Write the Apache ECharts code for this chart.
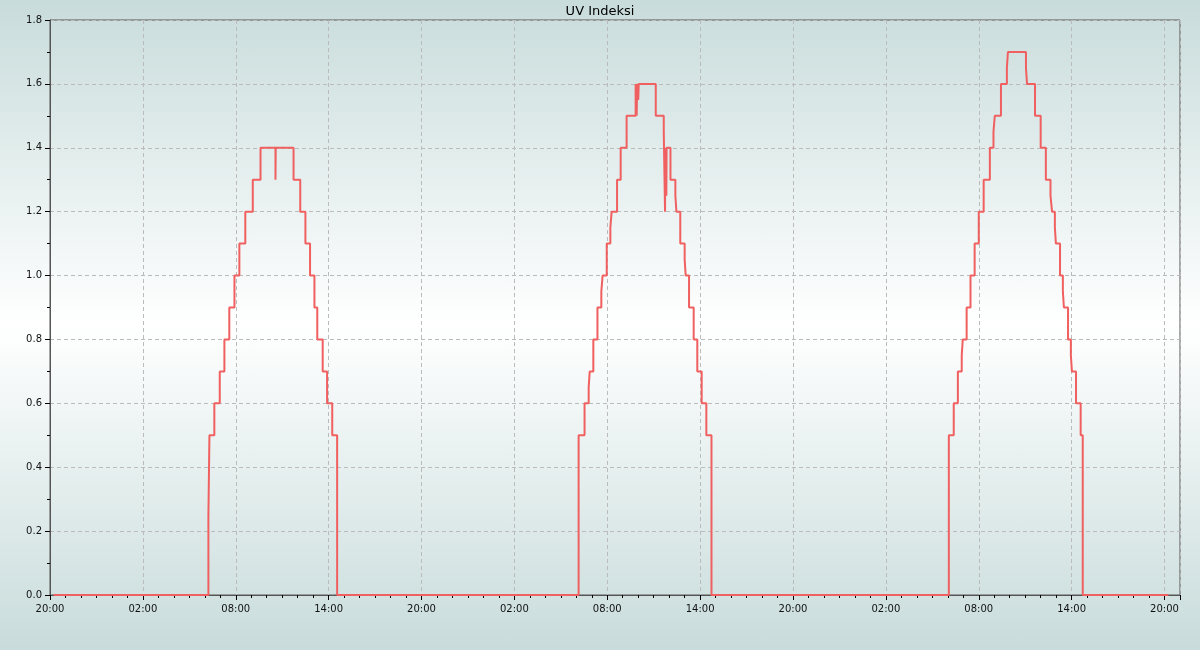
<!DOCTYPE html>
<html>
<head>
<meta charset="utf-8">
<script src="https://cdn.jsdelivr.net/npm/echarts@6/dist/echarts.min.js"></script>
<style>
  html, body { margin: 0; padding: 0; }
  #chart { width: 1200px; height: 650px;
    background: linear-gradient(to bottom, #c8dcdb 0%, #ffffff 50%, #c8dcdb 100%); }
</style>
</head>
<body>
<div id="chart"></div>
<script>
// Axis start: day 0 at 20:00; axis spans 73 hours (to 21:00 on day 3)
const startHour = 20;
const axisHours = 73;
const xTickStep = 6;
const yMax = 1.8;
const yStep = 0.2;

// Change points: "day HH:MM" -> value holds from this time on
const seriesStart = ['0 20:14'];
const startValues = [0];

const day1Times = ['1 06:14','1 06:18','1 06:37','1 06:58','1 07:16','1 07:35','1 07:55','1 08:14','1 08:37','1 09:06','1 09:36',
  '1 10:34','1 10:35','1 11:44','1 12:10','1 12:30','1 12:48','1 13:05','1 13:16','1 13:37','1 13:54','1 14:14','1 14:33'];
const day1Values = [0.25,0.5,0.6,0.7,0.8,0.9,1.0,1.1,1.2,1.3,1.4,
  1.3,1.4,1.3,1.2,1.1,1.0,0.9,0.8,0.7,0.6,0.5,0];

const day2Times = ['2 06:09','2 06:32','2 06:48','2 06:52','2 07:06','2 07:22','2 07:37','2 07:42','2 07:58','2 08:12','2 08:17',
  '2 08:38','2 08:52','2 09:15','2 09:50','2 09:54','2 09:56','2 10:00','2 10:02','2 11:08','2 11:39','2 11:44','2 11:45',
  '2 11:49','2 11:50','2 12:05','2 12:24','2 12:28','2 12:43','2 13:00','2 13:04','2 13:17','2 13:35','2 13:49','2 14:06','2 14:24','2 14:44'];
const day2Values = [0.5,0.6,0.65,0.7,0.8,0.9,0.95,1.0,1.1,1.15,1.2,
  1.3,1.4,1.5,1.6,1.5,1.6,1.55,1.6,1.5,1.45,1.2,1.4,
  1.25,1.4,1.3,1.25,1.2,1.1,1.05,1.0,0.9,0.8,0.7,0.6,0.5,0];

const day3Times = ['3 06:04','3 06:23','3 06:39','3 06:54','3 06:58','3 07:13','3 07:28','3 07:44','3 08:00','3 08:19','3 08:43',
  '3 08:57','3 09:02','3 09:26','3 09:49','3 09:53','3 11:03','3 11:07','3 11:38','3 12:00','3 12:20','3 12:38','3 12:44',
  '3 12:55','3 12:59','3 13:15','3 13:26','3 13:30','3 13:46','3 13:57','3 14:01','3 14:17','3 14:35','3 14:43'];
const day3Values = [0.5,0.6,0.7,0.75,0.8,0.9,1.0,1.1,1.2,1.3,1.4,
  1.45,1.5,1.6,1.65,1.7,1.65,1.6,1.5,1.4,1.3,1.25,1.2,
  1.15,1.1,1.0,0.95,0.9,0.8,0.75,0.7,0.6,0.5,0];

const seriesEnd = ['3 20:15'];
const endValues = [0];

function toHours(s) {
  const [d, hm] = s.split(' ');
  const [h, m] = hm.split(':').map(Number);
  return +d * 24 + h + m / 60 - startHour;
}
const allTimes = [].concat(seriesStart, day1Times, day2Times, day3Times, seriesEnd);
const allValues = [].concat(startValues, day1Values, day2Values, day3Values, endValues);
const data = allTimes.map((t, i) => [toHours(t), allValues[i]]);

const font = 'DejaVu Sans';
const chart = echarts.init(document.getElementById('chart'), null, { renderer: 'canvas' });
chart.setOption({
  backgroundColor: 'transparent',
  animation: false,
  title: {
    text: 'UV Indeksi', left: 'center', top: 0,
    textStyle: { fontFamily: font, fontSize: 13, fontWeight: 'normal', color: '#000' }
  },
  grid: { left: 50, right: 20, top: 20, bottom: 55, show: true, borderColor: '#555', borderWidth: 1, backgroundColor: 'transparent' },
  xAxis: {
    type: 'value', min: 0, max: axisHours, interval: xTickStep,
    axisLine: { show: true, lineStyle: { color: '#555' } },
    axisTick: { show: true, length: 5, lineStyle: { color: '#000' } },
    minorTick: { show: true, splitNumber: 6, length: 3, lineStyle: { color: '#000' } },
    axisLabel: {
      margin: 9, fontFamily: font, fontSize: 10, color: '#111',
      showMaxLabel: false,
      formatter: v => (v % xTickStep === 0) ? String((startHour + v) % 24).padStart(2, '0') + ':00' : ''
    },
    splitLine: { show: true, lineStyle: { color: '#bbb', type: [4, 3] } }
  },
  yAxis: {
    type: 'value', min: 0, max: yMax, interval: yStep,
    axisLine: { show: true, lineStyle: { color: '#555' } },
    axisTick: { show: true, length: 5, lineStyle: { color: '#000' } },
    minorTick: { show: true, splitNumber: 2, length: 3, lineStyle: { color: '#000' } },
    axisLabel: { margin: 8, fontFamily: font, fontSize: 10, color: '#111', formatter: v => v.toFixed(1) },
    splitLine: { show: true, lineStyle: { color: '#bbb', type: [4, 3] } }
  },
  series: [{
    type: 'line', step: 'end', data: data, showSymbol: false, symbol: 'none',
    lineStyle: { color: '#f06060', width: 2 }, itemStyle: { color: '#f06060' }
  }]
});
</script>
</body>
</html>
